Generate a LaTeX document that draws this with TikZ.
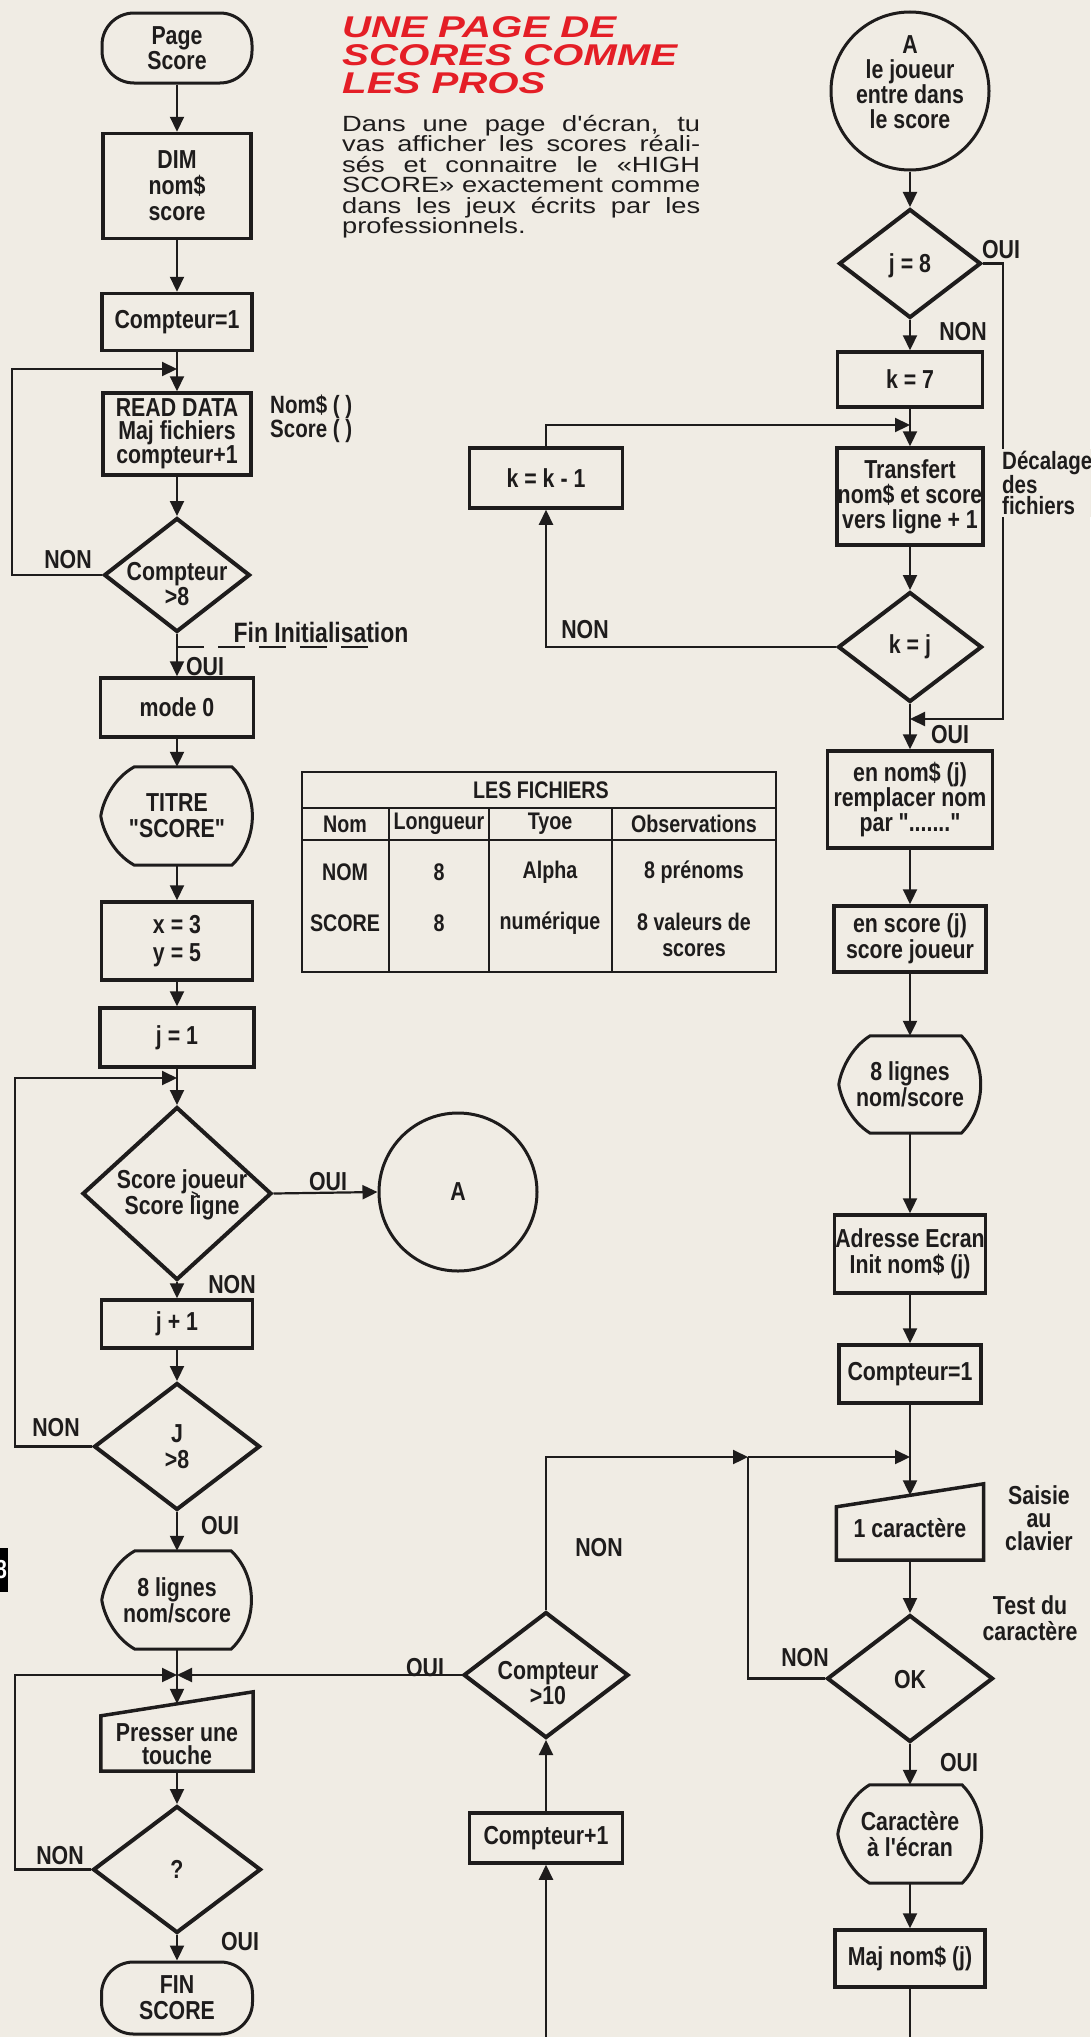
\documentclass[tikz,border=0pt]{standalone}
\usepackage{fontspec}
\setmainfont{Liberation Sans}
\newfontfamily\boxfont[FakeStretch=0.82]{Liberation Sans}
\newfontfamily\titlefont[FakeStretch=1.34]{Liberation Sans}
\newfontfamily\bodyfont[FakeStretch=1.24]{Liberation Sans}
\usetikzlibrary{shapes.geometric,arrows.meta,calc}

\definecolor{bg}{RGB}{240,236,228}
\definecolor{ink}{RGB}{30,28,28}
\definecolor{titlered}{RGB}{228,30,38}

\newcommand\ftBox{\boxfont\bfseries\fontsize{26}{26}\selectfont}
\newcommand\ftTight{\boxfont\bfseries\fontsize{26}{23}\selectfont}
\newcommand\ftPS{\boxfont\bfseries\fontsize{26}{23.5}\selectfont}
\newcommand\ftNom{\boxfont\bfseries\fontsize{25}{20}\selectfont}
\newcommand\ftBig{\boxfont\bfseries\fontsize{28}{28}\selectfont}
\newcommand\ftTab{\boxfont\bfseries\fontsize{24}{26}\selectfont}
\newcommand\ftTiny{\boxfont\bfseries\fontsize{15}{15}\selectfont}
\newcommand\ftBody{\bodyfont\fontsize{22}{20.5}\selectfont}
\newcommand\ftTitle{\titlefont\bfseries\itshape\fontsize{30}{28}\selectfont}

\tikzset{
  ln/.style={draw=ink, line width=2.2pt},
  arr/.style={ln, -{Triangle[length=15pt,width=14pt]}},
  bx/.style={draw=ink, line width=3.5pt, rectangle, inner sep=0pt, align=center, font=\ftBox, text=ink},
  term/.style={bx, rounded corners=32pt, line width=3pt},
  diam/.style={draw=ink, line width=4pt, diamond, inner sep=0pt},
  circ/.style={draw=ink, line width=3pt, circle, inner sep=0pt},
  frame/.style={rectangle, inner sep=0pt, align=center, font=\ftBox, text=ink},
  txt/.style={align=center, font=\ftBox, text=ink, inner sep=0pt},
  lbl/.style={font=\ftBox, text=ink, inner sep=0pt},
  shp/.style={draw=ink, line width=3pt},
  tbl/.style={font=\ftTab, text=ink, inner sep=0pt, align=center},
  tline/.style={draw=ink, line width=2.2pt},
  ttl/.style={font=\ftTitle, text=titlered, inner sep=0pt, anchor=base west},
  body/.style={font=\ftBody, text=ink, inner sep=0pt, anchor=base west},
}

% display symbol drawn on an invisible frame node
\newcommand\dispout[1]{%
  \draw[shp] ($(#1.north west)!0.22!(#1.north east)$) -- ($(#1.north west)!0.86!(#1.north east)$)
    .. controls ($(#1.north east)+(6,26)$) and ($(#1.south east)+(6,-26)$) .. ($(#1.south west)!0.86!(#1.south east)$)
    -- ($(#1.south west)!0.22!(#1.south east)$)
    .. controls ($(#1.south west)+(12,-12)$) and ($(#1.west)+(2,14)$) .. (#1.west)
    .. controls ($(#1.west)+(2,-14)$) and ($(#1.north west)+(12,12)$) .. cycle;}
% manual input symbol (slanted top)
\newcommand\manin[2]{%
  \draw[shp, line width=3.5pt] (#1.south west) -- ($(#1.north west)+(0,#2)$) -- (#1.north east) -- (#1.south east) -- cycle;}

\begin{document}
\begin{tikzpicture}[x=1pt,y=-1pt]
\useasboundingbox (0,0) rectangle (1090,2037);
\fill[bg] (0,0) rectangle (1090,2037);

% ---------- title and text ----------
\node[ttl] (ti1) at (342,37) {UNE PAGE DE};
\node[ttl] (ti2) at (342,65) {SCORES COMME};
\node[ttl] (ti3) at (342,93) {LES PROS};
\node[body] (b1) at (342,131) {\makebox[358pt][s]{Dans une page d'écran, tu}};
\node[body] (b2) at (342,151.5) {\makebox[358pt][s]{vas afficher les scores réali-}};
\node[body] (b3) at (342,172) {\makebox[358pt][s]{sés et connaitre le «HIGH}};
\node[body] (b4) at (342,192.5) {\makebox[358pt][s]{SCORE» exactement comme}};
\node[body] (b5) at (342,213) {\makebox[358pt][s]{dans les jeux écrits par les}};
\node[body] (b6) at (342,233.5) {professionnels.};

% ---------- left column ----------
\node[term, font=\ftPS, minimum width=150pt, minimum height=70pt] (ps) at (177,48) {Page\\Score};
\node[bx, minimum width=148pt, minimum height=105pt] (dim) at (177,186) {DIM\\nom\$\\score};
\node[bx, minimum width=150pt, minimum height=57pt] (c1) at (177,322) {Compteur=1};
\node[bx, font=\ftTight, minimum width=148pt, minimum height=82pt] (rd) at (177,434) {READ DATA\\Maj fichiers\\compteur+1};
\node[lbl, font=\ftNom, align=left, anchor=west] (nom) at (270,419) {Nom\$ ( )\\Score ( )};
\node[diam, minimum width=146pt, minimum height=114pt] (d8) at (177,575) {};
\node[txt, font=\ftTight] (d8t) at (177,584) {Compteur\\>8};
\node[lbl] (non1) at (68,560) {NON};
\node[lbl, font=\ftBig] (fin) at (321,632) {Fin Initialisation};
\node[lbl] (oui1) at (205,667) {OUI};
\node[bx, minimum width=153pt, minimum height=59pt] (m0) at (177,707.5) {mode 0};
\node[frame, minimum width=152pt, minimum height=98pt] (ti) at (177,816) {TITRE\\"SCORE"};
\dispout{ti}
\node[bx, font=\boxfont\bfseries\fontsize{26}{28}\selectfont, minimum width=151pt, minimum height=78pt] (xy) at (177,941) {x = 3\\y = 5};
\node[bx, minimum width=154pt, minimum height=59pt] (j1) at (177,1037.5) {j = 1};
\node[diam, minimum width=189pt, minimum height=173pt] (ds) at (177,1193.5) {};
\node[txt] (dst) at (182,1195) {Score joueur\\Score ligne};
\node[lbl, font=\ftTiny] (gt) at (195,1196) {>};
\node[lbl] (oui2) at (328,1182) {OUI};
\node[circ, minimum size=158pt] (ca) at (458,1192) {};
\node[lbl] (cat) at (458,1192) {A};
\node[lbl] (non2) at (232,1285) {NON};
\node[bx, minimum width=151pt, minimum height=48pt] (jp) at (177,1324) {j + 1};
\node[diam, minimum width=166pt, minimum height=127pt] (dj) at (177,1446.5) {};
\node[txt] (djt) at (177,1447) {J\\>8};
\node[lbl] (non3) at (56,1428) {NON};
\node[lbl] (oui3) at (220,1526) {OUI};
\node[frame, minimum width=150pt, minimum height=98pt] (l8) at (177,1600) {8 lignes\\nom/score};
\dispout{l8}
\node[frame, minimum width=152pt, minimum height=79pt] (pt) at (177,1731.5) {};
\manin{pt}{24}
\node[txt, font=\ftTight] (ptt) at (177,1744) {Presser une\\touche};
\node[diam, minimum width=168pt, minimum height=127pt] (dq) at (177,1869.5) {};
\node[txt] (dqt) at (177,1869) {?};
\node[lbl] (non4) at (60,1856) {NON};
\node[lbl] (oui4) at (240,1942) {OUI};
\node[term, minimum width=151pt, minimum height=72pt] (fs) at (177,1998) {FIN\\SCORE};

% page tab at left edge
\fill[black] (-5,1548) rectangle (8,1592);
\begin{scope}
  \clip (0,1548) rectangle (8,1592);
  \node[font=\ftBox, text=white, inner sep=0pt] (tab) at (1,1570) {8};
\end{scope}

% ---------- middle ----------
\node[bx, minimum width=153pt, minimum height=60pt] (kk) at (546,478) {k = k - 1};
\node[diam, minimum width=165pt, minimum height=126pt] (d10) at (546,1675) {};
\node[txt, font=\ftTight] (d10t) at (548,1683) {Compteur\\>10};
\node[lbl] (oui5) at (425,1668) {OUI};
\node[lbl] (non5) at (599,1548) {NON};
\node[bx, minimum width=153pt, minimum height=50pt] (cp1) at (546,1838) {Compteur+1};

% table
\draw[tline, line width=2.6pt] (302,772) rectangle (776,972);
\draw[tline] (302,808) -- (776,808);
\draw[tline] (302,840) -- (776,840);
\draw[tline] (389,808) -- (389,972);
\draw[tline] (489,808) -- (489,972);
\draw[tline] (612,808) -- (612,972);
\node[tbl] (th) at (541,790) {LES FICHIERS};
\node[tbl] (h1) at (345,824) {Nom};
\node[tbl] (h2) at (439,824) {Longueur};
\node[tbl] (h3) at (550,824) {Tyoe};
\node[tbl] (h4) at (694,824) {Observations};
\node[tbl] (r11) at (345,872) {NOM};
\node[tbl] (r12) at (439,872) {8};
\node[tbl] (r13) at (550,872) {Alpha};
\node[tbl] (r14) at (694,872) {8 prénoms};
\node[tbl] (r21) at (345,923) {SCORE};
\node[tbl] (r22) at (439,923) {8};
\node[tbl] (r23) at (550,923) {numérique};
\node[tbl] (r24) at (694,935) {8 valeurs de\\scores};

% ---------- right column ----------
\node[circ, minimum size=158pt] (cb) at (910,91) {};
\node[txt, font=\boxfont\bfseries\fontsize{26}{25}\selectfont] (cbt) at (910,82) {A\\le joueur\\entre dans\\le score};
\node[diam, minimum width=142pt, minimum height=109pt] (d8r) at (910,263.5) {};
\node[txt] (d8rt) at (910,266) {j = 8};
\node[lbl] (oui6) at (1001,250) {OUI};
\node[lbl] (non6) at (963,332) {NON};
\node[bx, minimum width=145pt, minimum height=55pt] (k7) at (910,379.5) {k = 7};
\node[bx, font=\boxfont\bfseries\fontsize{26}{25}\selectfont, minimum width=146pt, minimum height=97pt] (tr) at (910,496.5) {Transfert\\nom\$ et score\\vers ligne + 1};
\node[diam, minimum width=144pt, minimum height=110pt] (dkj) at (910,647) {};
\node[txt] (dkjt) at (910,647) {k = j};
\node[lbl] (non7) at (585,630) {NON};
\node[lbl] (oui7) at (950,735) {OUI};
\node[bx, font=\boxfont\bfseries\fontsize{26}{25}\selectfont, minimum width=165pt, minimum height=97pt] (enn) at (910,799.5) {en nom\$ (j)\\remplacer nom\\par "......."};
\node[bx, minimum width=152pt, minimum height=66pt] (ens) at (910,939) {en score (j)\\score joueur};
\node[frame, minimum width=142pt, minimum height=97pt] (l8r) at (910,1084.5) {8 lignes\\nom/score};
\dispout{l8r}
\node[bx, minimum width=151pt, minimum height=78pt] (adr) at (910,1254) {Adresse Ecran\\Init nom\$ (j)};
\node[bx, minimum width=142pt, minimum height=58pt] (c1r) at (910,1374) {Compteur=1};
\node[frame, minimum width=147pt, minimum height=76pt] (car) at (910,1522) {};
\manin{car}{23}
\node[txt] (cart) at (910,1528) {1 caractère};
\node[txt, font=\boxfont\bfseries\fontsize{26}{23}\selectfont] (sai) at (1039,1518) {Saisie\\au\\clavier};
\node[txt] (tst) at (1030,1618) {Test du\\caractère};
\node[diam, minimum width=166pt, minimum height=127pt] (dok) at (910,1678.5) {};
\node[txt] (dokt) at (910,1680) {OK};
\node[lbl] (non8) at (805,1658) {NON};
\node[lbl] (oui8) at (959,1763) {OUI};
\node[frame, minimum width=144pt, minimum height=98pt] (cec) at (910,1834) {Caractère\\à l'écran};
\dispout{cec}
\node[bx, minimum width=150pt, minimum height=57pt] (maj) at (910,1958.5) {Maj nom\$ (j)};

% ---------- junction coordinates ----------
\coordinate (j0) at (177,369);
\coordinate (lp1) at (12,369);
\coordinate (j2) at (177,1078);
\coordinate (lp2) at (15,1078);
\coordinate (j3) at (177,1675);
\coordinate (lp3) at (15,1675);
\coordinate (pttop) at ($(pt.north)+(0,12)$);
\coordinate (fi1) at (177,647);
\coordinate (fi2) at (377,647);
\coordinate (j4) at (910,425);
\coordinate (j5) at (910,719);
\coordinate (rp) at (1003,719);
\coordinate (j6) at (910,1457);
\coordinate (cc) at (748,1457);
\coordinate (cartop) at ($(car.north)+(0,11.5)$);
\coordinate (bt1) at (910,2045);
\coordinate (bt2) at (546,2045);

% ---------- connectors: left ----------
\draw[arr] (ps) -- (dim);
\draw[arr] (dim) -- (c1);
\draw[arr] (c1) -- (rd);
\draw[arr] (rd) -- (d8);
\draw[arr] (d8.west) -| (lp1) -- (j0);
\draw[arr] (d8) -- (m0);
\draw[ln, dash pattern=on 27pt off 14pt] (fi1) -- (fi2);
\draw[arr] (m0) -- (ti);
\draw[arr] (ti) -- (xy);
\draw[arr] (xy) -- (j1);
\draw[arr] (j1) -- (ds);
\draw[arr] (ds.east) -- (ca.west);
\draw[arr] (ds) -- (jp);
\draw[arr] (jp) -- (dj);
\draw[arr] (dj.west) -| (lp2) -- (j2);
\draw[arr] (dj) -- (l8);
\draw[arr] (l8) -- (pttop);
\draw[arr] (dq.west) -| (lp3) -- (j3);
\draw[arr] (d10.west) -- (j3);
\draw[arr] (pt) -- (dq);
\draw[arr] (dq) -- (fs);

% ---------- connectors: middle ----------
\draw[arr] (bt2) -- (cp1);
\draw[arr] (cp1) -- (d10);
\draw[arr] (d10.north) |- (cc);
\draw[arr] (cc) -- (j6);

% ---------- connectors: right ----------
\draw[arr] (cb) -- (d8r);
\draw[arr] (d8r) -- (k7);
\draw[arr] (k7) -- (tr);
\draw[arr] (kk.north) |- (j4);
\draw[arr] (d8r.east) -| (rp) -- (j5);
\draw[arr] (tr) -- (dkj);
\draw[arr] (dkj) -- (enn);
\draw[arr] (dkj.west) -| (kk.south);
\draw[arr] (enn) -- (ens);
\draw[arr] (ens) -- (l8r);
\draw[arr] (l8r) -- (adr);
\draw[arr] (adr) -- (c1r);
\draw[arr] (c1r) -- (cartop);
\draw[ln] (dok.west) -| (cc);
\draw[arr] (car) -- (dok);
\draw[arr] (dok) -- (cec);
\draw[arr] (cec) -- (maj);
\draw[ln] (maj) -- (bt1);

% label masking the loop line
\node[lbl, align=left, anchor=west, fill=bg, inner sep=2pt, font=\boxfont\bfseries\fontsize{25}{21}\selectfont] (dec) at (1000,483) {Décalage\\des\\fichiers};
\end{tikzpicture}
\end{document}
